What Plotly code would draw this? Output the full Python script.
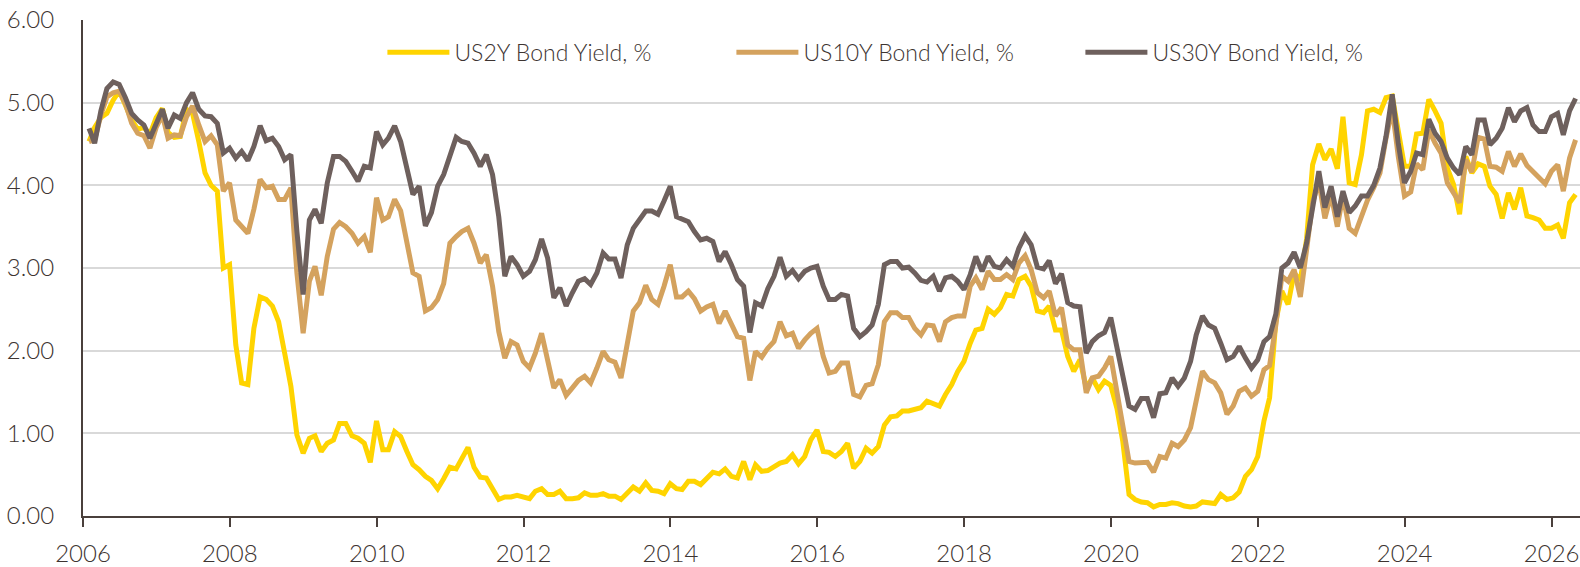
import pandas as pd
import plotly.graph_objects as go

months = pd.date_range("2006-01-31", periods=244, freq="ME")

us2y = [
    4.53, 4.70, 4.82, 4.87, 5.03, 5.14, 4.97, 4.79, 4.68, 4.70, 4.62, 4.82,
    4.93, 4.64, 4.58, 4.59, 4.92, 4.87, 4.53, 4.15, 4.00, 3.93, 3.00, 3.04,
    2.07, 1.61, 1.59, 2.27, 2.65, 2.62, 2.54, 2.35, 1.97, 1.57, 0.98, 0.76,
    0.94, 0.97, 0.78, 0.88, 0.92, 1.12, 1.12, 0.97, 0.94, 0.88, 0.65, 1.15,
    0.80, 0.80, 1.02, 0.96, 0.78, 0.62, 0.56, 0.48, 0.43, 0.33, 0.45, 0.59,
    0.57, 0.70, 0.83, 0.59, 0.47, 0.46, 0.34, 0.20, 0.23, 0.23, 0.25, 0.23,
    0.21, 0.30, 0.33, 0.26, 0.26, 0.30, 0.21, 0.21, 0.22, 0.28, 0.25, 0.25,
    0.27, 0.24, 0.24, 0.20, 0.28, 0.35, 0.30, 0.40, 0.31, 0.30, 0.27, 0.39,
    0.33, 0.32, 0.42, 0.42, 0.38, 0.46, 0.53, 0.51, 0.57, 0.48, 0.46, 0.66,
    0.44, 0.62, 0.54, 0.55, 0.59, 0.64, 0.66, 0.74, 0.63, 0.72, 0.92, 1.04,
    0.78, 0.77, 0.72, 0.78, 0.88, 0.58, 0.66, 0.82, 0.76, 0.84, 1.10, 1.20,
    1.21, 1.27, 1.27, 1.29, 1.31, 1.39, 1.36, 1.33, 1.47, 1.59, 1.75, 1.87,
    2.09, 2.25, 2.27, 2.50, 2.44, 2.52, 2.68, 2.66, 2.86, 2.90, 2.78, 2.48,
    2.46, 2.54, 2.25, 2.25, 1.93, 1.75, 1.89, 1.55, 1.67, 1.53, 1.63, 1.58,
    1.30, 0.90, 0.26, 0.20, 0.17, 0.16, 0.11, 0.14, 0.14, 0.16, 0.15, 0.12,
    0.11, 0.12, 0.17, 0.16, 0.15, 0.26, 0.20, 0.22, 0.29, 0.48, 0.56, 0.72,
    1.15, 1.43, 2.35, 2.72, 2.56, 2.94, 2.85, 3.35, 4.25, 4.50, 4.31, 4.44,
    4.20, 4.83, 4.03, 4.01, 4.37, 4.90, 4.92, 4.88, 5.06, 5.08, 4.68, 4.23,
    4.23, 4.62, 4.63, 5.04, 4.90, 4.75, 4.21, 4.01, 3.65, 4.35, 4.15, 4.26,
    4.23, 3.99, 3.89, 3.60, 3.91, 3.71, 3.97, 3.63, 3.61, 3.58, 3.48, 3.48,
    3.52, 3.36, 3.79, 3.89,
]

us10y = [
    4.53, 4.55, 4.85, 5.07, 5.12, 5.14, 4.99, 4.75, 4.63, 4.60, 4.45, 4.70,
    4.85, 4.57, 4.61, 4.60, 4.83, 4.96, 4.73, 4.53, 4.60, 4.49, 3.93, 4.03,
    3.58, 3.50, 3.42, 3.71, 4.07, 3.97, 3.99, 3.83, 3.83, 3.97, 2.94, 2.21,
    2.84, 3.02, 2.67, 3.14, 3.47, 3.55, 3.50, 3.42, 3.30, 3.38, 3.19, 3.85,
    3.58, 3.62, 3.83, 3.69, 3.30, 2.94, 2.90, 2.48, 2.52, 2.62, 2.81, 3.30,
    3.38, 3.44, 3.48, 3.30, 3.06, 3.16, 2.78, 2.23, 1.91, 2.11, 2.07, 1.87,
    1.79, 1.97, 2.21, 1.89, 1.55, 1.65, 1.46, 1.55, 1.64, 1.69, 1.61, 1.79,
    1.99, 1.89, 1.86, 1.67, 2.11, 2.48, 2.58, 2.79, 2.62, 2.56, 2.78, 3.04,
    2.65, 2.65, 2.72, 2.63, 2.48, 2.53, 2.56, 2.33, 2.48, 2.33, 2.17, 2.15,
    1.64, 1.99, 1.92, 2.03, 2.11, 2.35, 2.18, 2.21, 2.03, 2.13, 2.21, 2.27,
    1.93, 1.73, 1.75, 1.85, 1.85, 1.47, 1.44, 1.58, 1.60, 1.83, 2.35, 2.46,
    2.46, 2.40, 2.40, 2.27, 2.19, 2.31, 2.30, 2.11, 2.35, 2.40, 2.42, 2.42,
    2.78, 2.88, 2.74, 2.96, 2.86, 2.86, 2.92, 2.86, 3.06, 3.15, 2.98, 2.70,
    2.64, 2.72, 2.42, 2.52, 2.07, 2.01, 2.01, 1.49, 1.67, 1.69, 1.79, 1.93,
    1.51, 1.13, 0.66, 0.64, 0.65, 0.65, 0.53, 0.72, 0.70, 0.88, 0.84, 0.92,
    1.07, 1.39, 1.75, 1.65, 1.61, 1.49, 1.23, 1.33, 1.51, 1.55, 1.45, 1.51,
    1.77, 1.82, 2.31, 2.90, 2.84, 2.98, 2.65, 3.22, 3.79, 4.05, 3.60, 3.89,
    3.50, 3.88, 3.48, 3.42, 3.64, 3.82, 3.97, 4.15, 4.57, 4.93, 4.35, 3.87,
    3.92, 4.26, 4.19, 4.67, 4.51, 4.39, 4.03, 3.91, 3.79, 4.31, 4.16, 4.58,
    4.56, 4.23, 4.22, 4.17, 4.41, 4.23, 4.38, 4.24, 4.17, 4.11, 4.02, 4.17,
    4.25, 3.93, 4.33, 4.55,
]

us30y = [
    4.69, 4.51, 4.90, 5.17, 5.25, 5.22, 5.06, 4.87, 4.79, 4.73, 4.57, 4.75,
    4.92, 4.69, 4.85, 4.81, 5.00, 5.12, 4.92, 4.84, 4.83, 4.75, 4.39, 4.45,
    4.33, 4.41, 4.30, 4.47, 4.72, 4.54, 4.57, 4.47, 4.31, 4.37, 3.44, 2.68,
    3.58, 3.71, 3.54, 4.03, 4.35, 4.35, 4.29, 4.17, 4.05, 4.23, 4.21, 4.65,
    4.49, 4.57, 4.72, 4.53, 4.21, 3.89, 3.99, 3.51, 3.67, 3.99, 4.13, 4.35,
    4.58, 4.53, 4.51, 4.39, 4.23, 4.37, 4.13, 3.62, 2.90, 3.14, 3.04, 2.90,
    2.96, 3.10, 3.35, 3.12, 2.64, 2.76, 2.54, 2.70, 2.84, 2.87, 2.80, 2.94,
    3.18, 3.11, 3.11, 2.88, 3.28, 3.48, 3.58, 3.69, 3.69, 3.65, 3.81, 3.99,
    3.62, 3.59, 3.56, 3.44, 3.34, 3.36, 3.32, 3.08, 3.20, 3.04, 2.86, 2.78,
    2.22, 2.58, 2.54, 2.75, 2.90, 3.13, 2.90, 2.97, 2.87, 2.96, 3.00, 3.02,
    2.78, 2.62, 2.62, 2.68, 2.66, 2.27, 2.17, 2.23, 2.31, 2.56, 3.04, 3.08,
    3.08, 3.00, 3.01, 2.94, 2.85, 2.83, 2.90, 2.72, 2.88, 2.90, 2.84, 2.74,
    2.92, 3.14, 2.96, 3.14, 3.02, 3.00, 3.10, 3.02, 3.24, 3.39, 3.28, 3.01,
    2.99, 3.09, 2.81, 2.93, 2.58, 2.54, 2.53, 1.97, 2.11, 2.18, 2.22, 2.40,
    2.05, 1.67, 1.33, 1.29, 1.42, 1.42, 1.19, 1.48, 1.49, 1.67, 1.57, 1.67,
    1.87, 2.19, 2.42, 2.31, 2.27, 2.09, 1.89, 1.93, 2.05, 1.91, 1.79, 1.89,
    2.11, 2.17, 2.44, 3.00, 3.06, 3.19, 3.00, 3.30, 3.75, 4.17, 3.73, 3.99,
    3.62, 3.93, 3.67, 3.75, 3.87, 3.87, 4.00, 4.21, 4.59, 5.10, 4.51, 4.03,
    4.17, 4.39, 4.37, 4.80, 4.63, 4.53, 4.33, 4.21, 4.13, 4.47, 4.37, 4.79,
    4.79, 4.49, 4.57, 4.69, 4.94, 4.77, 4.90, 4.94, 4.73, 4.65, 4.65, 4.83,
    4.87, 4.61, 4.90, 5.05,
]

series_names = ["US2Y Bond Yield, %", "US10Y Bond Yield, %", "US30Y Bond Yield, %"]
series_colors = ["#FFD400", "#D4A25E", "#6E605D"]
y_ticks = [0, 1, 2, 3, 4, 5, 6]

TEXT = "#3d3431"
FONT = "Lato"
FSIZE = 23
TSIZE = 24

fig = go.Figure()
for name, vals, col in zip(series_names, [us2y, us10y, us30y], series_colors):
    fig.add_trace(go.Scatter(x=months, y=vals, mode="lines", name=name,
                             line=dict(color=col, width=5)))

fig.update_layout(
    width=1580, height=567,
    margin=dict(l=83, r=0, t=20, b=51, autoexpand=False),
    paper_bgcolor="white", plot_bgcolor="white",
    font=dict(family=FONT, size=FSIZE, color=TEXT, weight=300),
    showlegend=True,
    legend=dict(orientation="h", x=0.2, xanchor="left", y=0.935, yanchor="middle",
                font=dict(family=FONT, size=FSIZE, color=TEXT, weight=300),
                itemwidth=62, entrywidth=272, entrywidthmode="pixels",
                bgcolor="rgba(0,0,0,0)", traceorder="normal"),
)
fig.update_xaxes(
    type="date", range=["2006-01-01", "2026-05-22"],
    tick0="2006-01-01", dtick="M24", tickformat="%Y",
    showgrid=False, zeroline=False, automargin=False,
    showline=True, linecolor="#4a403c", linewidth=2,
    ticks="outside", ticklen=9, tickwidth=2, tickcolor="#4a403c",
    ticklabelstandoff=6, ticklabeloverflow="allow",
    tickfont=dict(family=FONT, size=TSIZE, color=TEXT, weight=300),
)
fig.update_yaxes(
    range=[0, 6], tickvals=y_ticks, tickformat=".2f",
    showgrid=True, gridcolor="#d9d9d9", gridwidth=2,
    zeroline=False, showline=True, linecolor="#4a403c", linewidth=2,
    ticks="", ticklabelstandoff=22, automargin=False,
    tickfont=dict(family=FONT, size=TSIZE, color=TEXT, weight=300),
)

fig.write_html("out.html", config={"displayModeBar": False},
               post_script="document.body.style.margin='0px';")
